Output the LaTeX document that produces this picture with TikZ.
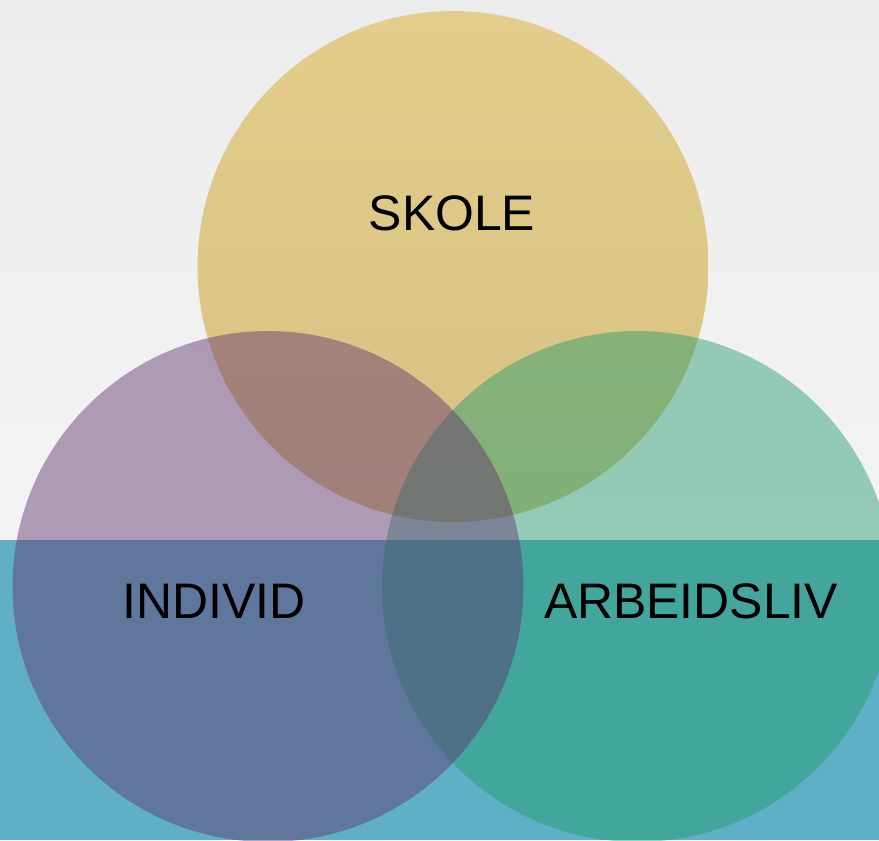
\documentclass[tikz,border=0pt]{standalone}
\usepackage{fontspec}
\setmainfont{Liberation Sans}
\newcommand*{\vennfont}{\fontsize{28.4}{33}\selectfont}
\definecolor{bgtop}{RGB}{236,236,236}
\definecolor{bgbot}{RGB}{243,243,243}
\definecolor{band}{RGB}{95,176,198}
\definecolor{skoletop}{RGB}{228,205,138}
\definecolor{skolebot}{RGB}{213,193,132}
\definecolor{individ}{RGB}{95,49,109}
\definecolor{arbeid}{RGB}{32,155,108}
\usepackage{tikz}
\usetikzlibrary{positioning}
\tikzstyle{base}=[x=0.02cm, y=0.02cm, inner sep=0pt, outer sep=0pt]
\tikzstyle{ring}=[fill opacity=0.45]
\tikzstyle{label}=[black, font=\vennfont]

\begin{document}
\begin{tikzpicture}[base]
    \clip (0,0) rectangle (879,840);
    \shade [top color=bgtop, bottom color=bgbot] (0,300) rectangle (879,840);
    \fill [band] (0,0) rectangle (879,300);
    \shade [top color=skoletop, bottom color=skolebot] (453,573.5) circle [radius=5.11cm];
    \fill [ring, arbeid] (637.5,253.5) circle [radius=5.11cm];
    \fill [ring, individ] (268,253.5) circle [radius=5.11cm];
    \node [label] (skole) at (452,627) {SKOLE};
    \node [label] (individ) at (214,239) {INDIVID};
    \node [label] (arbeidsliv) at (691,239) {ARBEIDSLIV};
\end{tikzpicture}
\end{document}
